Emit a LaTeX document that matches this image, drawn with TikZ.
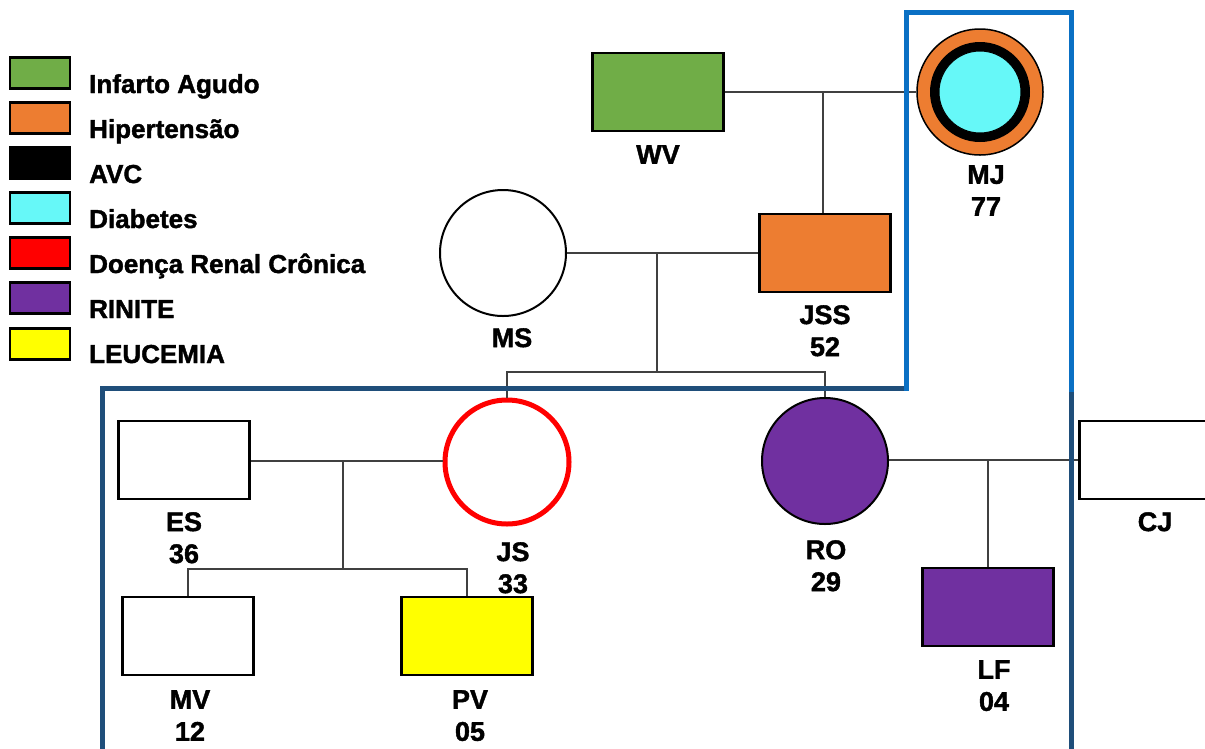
\documentclass[tikz,border=0pt]{standalone}
\usepackage{fontspec}
\setmainfont[BoldFeatures={FakeBold=1.5}]{Liberation Sans}

\definecolor{infarto}{HTML}{70AD47}
\definecolor{hiper}{HTML}{ED7D31}
\definecolor{diab}{HTML}{66F8F8}
\definecolor{renal}{HTML}{FF0000}
\definecolor{rinite}{HTML}{7030A0}
\definecolor{leuc}{HTML}{FFFF00}
\definecolor{lightblue}{HTML}{0A70C4}
\definecolor{darkblue}{HTML}{1F4E7A}

\begin{document}
\begin{tikzpicture}[x=1pt, y=-1pt,
    male/.style={rectangle, draw, line width=2.5pt, minimum width=131pt, minimum height=78pt, inner sep=0pt},
    female/.style={circle, draw, line width=2pt, minimum size=126pt, inner sep=0pt},
    keybox/.style={rectangle, draw, line width=2.5pt, minimum width=60pt, minimum height=31pt, inner sep=0pt},
    keytext/.style={anchor=base west, inner sep=0pt, font=\fontsize{26}{28}\selectfont\bfseries},
    lbl/.style={anchor=north, inner sep=0pt, align=center, font=\fontsize{27}{32}\selectfont\bfseries},
    conn/.style={line width=1.5pt, black!75}]
    \clip (0, 0) rectangle (1205, 748);
    \fill[white] (0, 0) rectangle (1205, 748);

    % legend
    \node[keybox, fill=infarto] (k1) at (40, 73) {};
    \node[keybox, fill=hiper] (k2) at (40, 118) {};
    \node[keybox, fill=black] (k3) at (40, 163) {};
    \node[keybox, fill=diab] (k4) at (40, 208) {};
    \node[keybox, fill=renal] (k5) at (40, 253) {};
    \node[keybox, fill=rinite] (k6) at (40, 298) {};
    \node[keybox, fill=leuc] (k7) at (40, 344) {};

    \node[keytext] (t1) at (89, 93) {Infarto Agudo};
    \node[keytext] (t2) at (89, 138) {Hipertensão};
    \node[keytext] (t3) at (89, 183) {AVC};
    \node[keytext] (t4) at (89, 228) {Diabetes};
    \node[keytext] (t5) at (89, 273) {Doença Renal Crônica};
    \node[keytext] (t6) at (89, 318) {RINITE};
    \node[keytext] (t7) at (89, 363) {LEUCEMIA};

    % first generation
    \node[male, fill=infarto] (WV) at (658, 92) {};
    \node[female, fill=hiper, line width=1.5pt] (MJ) at (980, 92) {};
    \fill[black] (MJ.center) circle (50);
    \filldraw[fill=diab, draw=black, line width=1pt] (MJ.center) circle (41);

    % second generation
    \node[female, fill=white] (MS) at (503, 253) {};
    \node[male, fill=hiper] (JSS) at (825, 253) {};

    % third generation
    \node[male, fill=white] (ES) at (184, 460) {};
    \node[female, draw=renal, line width=5pt, minimum size=124pt] (JS) at (507, 462) {};
    \node[female, fill=rinite] (RO) at (825, 461) {};
    \node[male, fill=white] (CJ) at (1145, 460) {};

    % fourth generation
    \node[male, fill=white] (MV) at (188, 636) {};
    \node[male, fill=leuc] (PV) at (467, 636) {};
    \node[male, fill=rinite] (LF) at (988, 607) {};

    % names and ages
    \node[lbl] (nWV) at (658, 145) {WV};
    \node[lbl] (nMJ) at (986, 165) {MJ\\77};
    \node[lbl] (nMS) at (512, 328) {MS};
    \node[lbl] (nJSS) at (825, 305) {JSS\\52};
    \node[lbl] (nES) at (184, 512) {ES\\36};
    \node[lbl] (nJS) at (513, 542) {JS\\33};
    \node[lbl] (nRO) at (826, 540) {RO\\29};
    \node[lbl] (nCJ) at (1155, 512) {CJ};
    \node[lbl] (nMV) at (190, 690) {MV\\12};
    \node[lbl] (nPV) at (470, 690) {PV\\05};
    \node[lbl] (nLF) at (994, 660) {LF\\04};

    % connectors
    \coordinate (wvmj) at (823, 92);
    \coordinate (msjss) at (657, 253);
    \coordinate (sib1) at (657, 372);
    \coordinate (esjs) at (343, 461);
    \coordinate (sib2) at (343, 569);
    \coordinate (rocj) at (988, 460);

    \draw[conn] (WV.east) -- (MJ.west);
    \draw[conn] (wvmj) -- (JSS.north -| wvmj);
    \draw[conn] (MS.east) -- (JSS.west);
    \draw[conn] (msjss) -- (sib1);
    \draw[conn] (JS.north) |- (sib1) -| (RO.north);
    \draw[conn] (ES.east |- esjs) -- (esjs -| JS.west);
    \draw[conn] (esjs) -- (sib2);
    \draw[conn] (MV.north) |- (sib2) -| (PV.north);
    \draw[conn] (RO.east |- rocj) -- (rocj -| CJ.west);
    \draw[conn] (rocj) -- (LF.north);

    % family frames
    \draw[darkblue, line width=5pt] (102, 750) -- (102, 388) -- (906, 388);
    \draw[darkblue, line width=5pt] (1071, 392) -- (1071, 750);
    \draw[lightblue, line width=5pt, line join=miter] (906, 390.5) -- (906, 12) -- (1071, 12) -- (1071, 392);
\end{tikzpicture}
\end{document}
